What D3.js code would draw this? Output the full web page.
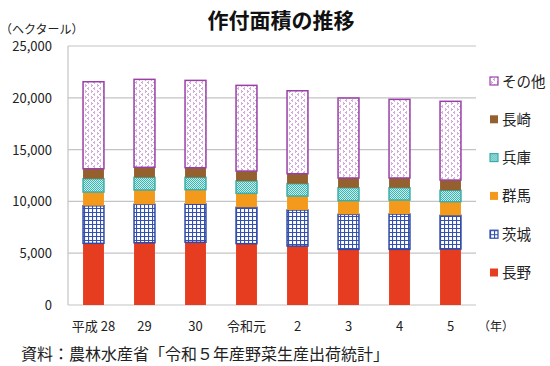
<!DOCTYPE html>
<html>
<head>
<meta charset="utf-8">
<script src="https://cdn.jsdelivr.net/npm/d3@7"></script>
<style>
  body { margin: 0; background: #fff; }
  svg { font-family: "Noto Sans CJK JP", "Noto Sans", sans-serif; }
</style>
</head>
<body>
<div class="chart"></div>
<script>
const years = ["平成 28", "29", "30", "令和元", "2", "3", "4", "5"];
const series = ["長野", "茨城", "群馬", "兵庫", "長崎", "その他"];
const nagano = [5950, 6010, 6050, 5920, 5690, 5370, 5370, 5400];
const ibaraki = [3630, 3710, 3700, 3510, 3480, 3380, 3410, 3250];
const gunma = [1320, 1380, 1380, 1350, 1350, 1320, 1350, 1320];
const hyogo = [1290, 1220, 1190, 1190, 1190, 1250, 1190, 1100];
const nagasaki = [960, 970, 930, 960, 960, 940, 940, 990];
const other = [8400, 8490, 8430, 8270, 8010, 7720, 7590, 7600];
const yTicks = [0, 5000, 10000, 15000, 20000, 25000];

const table = years.map((y, i) => ({
	year: y,
	"長野": nagano[i],
	"茨城": ibaraki[i],
	"群馬": gunma[i],
	"兵庫": hyogo[i],
	"長崎": nagasaki[i],
	"その他": other[i]
}));

const width = 550;
const height = 366;
const plotLeft = 68, plotRight = 476, plotTop = 46, plotBottom = 305;

const svg = d3.select('.chart')
	.append('svg')
	.attr('width', width)
	.attr('height', height);

// patterns
const defs = svg.append('defs');

const pOther = defs.append('pattern')
	.attr('id', 'p-other')
	.attr('patternUnits', 'userSpaceOnUse')
	.attr('width', 6).attr('height', 6);
pOther.append('rect').attr('width', 6).attr('height', 6).attr('fill', '#fff');
pOther.append('path').attr('d', 'M1,0.5 L2.5,1.5 L1,2.5').attr('fill', 'none')
	.attr('stroke', '#b060c0').attr('stroke-width', 0.8);
pOther.append('path').attr('d', 'M5,3.5 L3.5,4.5 L5,5.5').attr('fill', 'none')
	.attr('stroke', '#b060c0').attr('stroke-width', 0.8);

const pIbaraki = defs.append('pattern')
	.attr('id', 'p-ibaraki')
	.attr('patternUnits', 'userSpaceOnUse')
	.attr('width', 4).attr('height', 4);
pIbaraki.append('rect').attr('width', 4).attr('height', 4).attr('fill', '#fff');
pIbaraki.append('path').attr('d', 'M0,0.5 H4 M0.5,0 V4').attr('stroke', '#3450b0').attr('stroke-width', 1.2);

const pHyogo = defs.append('pattern')
	.attr('id', 'p-hyogo')
	.attr('patternUnits', 'userSpaceOnUse')
	.attr('width', 2).attr('height', 2);
pHyogo.append('rect').attr('width', 2).attr('height', 2).attr('fill', '#c8ecea');
pHyogo.append('rect').attr('width', 1).attr('height', 1).attr('fill', '#40b4b0');
pHyogo.append('rect').attr('x', 1).attr('y', 1).attr('width', 1).attr('height', 1).attr('fill', '#40b4b0');

const fills = {
	"長野": "#e63c20",
	"茨城": "url(#p-ibaraki)",
	"群馬": "#f39a1c",
	"兵庫": "url(#p-hyogo)",
	"長崎": "#94602e",
	"その他": "url(#p-other)"
};
const strokes = {
	"長野": "none",
	"茨城": "#2f4aa8",
	"群馬": "none",
	"兵庫": "#3aaeaa",
	"長崎": "none",
	"その他": "#9a3fa8"
};

const x = d3.scaleBand().domain(years).range([plotLeft, plotRight]).paddingInner(0.59).paddingOuter(0.295);
const y = d3.scaleLinear().domain([0, 25000]).range([plotBottom, plotTop]);

// gridlines
svg.append('g')
	.selectAll('line')
	.data(yTicks)
	.enter()
	.append('line')
	.attr('x1', plotLeft)
	.attr('x2', plotRight)
	.attr('y1', d => y(d))
	.attr('y2', d => y(d))
	.attr('stroke', '#c4c4c4')
	.attr('stroke-width', 1.2);

// y axis line
svg.append('line')
	.attr('x1', plotLeft).attr('x2', plotLeft)
	.attr('y1', plotTop).attr('y2', plotBottom)
	.attr('stroke', '#c4c4c4').attr('stroke-width', 1.2);

// y tick labels
svg.append('g')
	.selectAll('text')
	.data(yTicks)
	.enter()
	.append('text')
	.text(d => d3.format(',')(d))
	.attr('x', 52)
	.attr('y', d => y(d) + 5)
	.attr('text-anchor', 'end')
	.attr('font-size', '13px')
	.attr('fill', '#222');

svg.append('text')
	.text('（ヘクタール）')
	.attr('x', 0)
	.attr('y', 34)
	.attr('font-size', '12px')
	.attr('fill', '#222');

// bars
const stacked = d3.stack().keys(series)(table);
svg.append('g')
	.selectAll('g')
	.data(stacked)
	.enter()
	.append('g')
	.attr('fill', d => fills[d.key])
	.attr('stroke', d => strokes[d.key])
	.attr('stroke-width', 1.5)
	.selectAll('rect')
	.data(d => d)
	.enter()
	.append('rect')
	.attr('x', d => x(d.data.year))
	.attr('y', d => y(d[1]))
	.attr('width', x.bandwidth())
	.attr('height', d => y(d[0]) - y(d[1]));

// x labels
svg.append('g')
	.selectAll('text')
	.data(years)
	.enter()
	.append('text')
	.text(d => d)
	.attr('x', d => x(d) + x.bandwidth() / 2)
	.attr('y', 331)
	.attr('text-anchor', 'middle')
	.attr('font-size', '13px')
	.attr('fill', '#222');

svg.append('text')
	.text('（年）')
	.attr('x', 478)
	.attr('y', 331)
	.attr('font-size', '12px')
	.attr('fill', '#222');

// legend
const legend = series.slice().reverse();
const lg = svg.append('g')
	.selectAll('g')
	.data(legend)
	.enter()
	.append('g')
	.attr('transform', (d, i) => `translate(490, ${81 + i * 38.3})`);
lg.append('rect')
	.attr('x', 0).attr('y', -4)
	.attr('width', 8).attr('height', 8)
	.attr('fill', d => fills[d])
	.attr('stroke', d => strokes[d])
	.attr('stroke-width', 1.2);
lg.append('text')
	.text(d => d)
	.attr('x', 12)
	.attr('y', 5.5)
	.attr('font-size', '14.5px')
	.attr('fill', '#222');

// title
svg.append('text')
	.text('作付面積の推移')
	.attr('x', 281)
	.attr('y', 28)
	.attr('text-anchor', 'middle')
	.attr('font-size', '21px')
	.attr('font-weight', 'bold')
	.attr('fill', '#111');

// source
svg.append('text')
	.text('資料：農林水産省「令和５年産野菜生産出荷統計」')
	.attr('x', 21)
	.attr('y', 360)
	.attr('font-size', '16px')
	.attr('fill', '#222');
</script>
</body>
</html>
